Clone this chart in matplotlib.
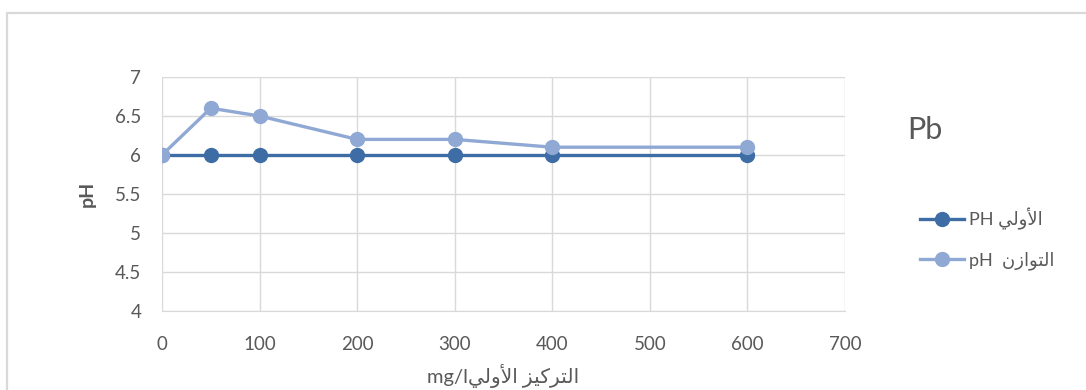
import matplotlib
matplotlib.use("Agg")
import matplotlib.pyplot as plt
from matplotlib.patches import Rectangle

# données
concentrations = [0, 50, 100, 200, 300, 400, 600]
ph_initial = [6, 6, 6, 6, 6, 6, 6]
ph_equilibre = [6, 6.6, 6.5, 6.2, 6.2, 6.1, 6.1]

# texte arabe en formes de présentation, ordre visuel (pas de mise en forme dans matplotlib)
ar_awwali = "\uFEF2\uFEDF\uFEED\uFEF7\uFE8D"          # الأولي
ar_tarkiz = "\uFEB0\uFEF4\uFEDB\uFEAE\uFE98\uFEDF\uFE8D"  # التركيز
ar_tawazun = "\uFEE5\uFEAF\uFE8D\uFEEE\uFE98\uFEDF\uFE8D"  # التوازن

label_initial = "PH " + ar_awwali
label_equilibre = "pH  " + ar_tawazun
xlabel = "mg/l" + ar_awwali + " " + ar_tarkiz

fam = ["Lato", "DejaVu Sans"]
plt.rcParams["font.family"] = fam

dark = "#3E6DA6"
light = "#8FA8D4"
grey_txt = "#595959"
grid_c = "#D9D9D9"

fig = plt.figure(figsize=(10.86, 3.90), dpi=100)

# cadre du graphique
fig.patches.append(Rectangle((7 / 1086, -0.05), 1.2, 1 - 13 / 390 + 0.05,
                             transform=fig.transFigure, fill=False,
                             edgecolor=grid_c, linewidth=1.6))

ax = fig.add_axes([162 / 1086, 1 - 311 / 390, (845 - 162) / 1086, (311 - 77) / 390])

ax.plot(concentrations, ph_initial, color=dark, linewidth=2.4, marker="o",
        markersize=10, label=label_initial, zorder=3)
ax.plot(concentrations, ph_equilibre, color=light, linewidth=2.4, marker="o",
        markersize=10, label=label_equilibre, zorder=4)

ax.set_xlim(0, 700)
ax.set_ylim(4, 7)
ax.set_xticks(range(0, 701, 100))
ax.set_yticks([4, 4.5, 5, 5.5, 6, 6.5, 7])
ax.set_yticklabels(["4", "4.5", "5", "5.5", "6", "6.5", "7"])

ax.grid(True, color=grid_c, linewidth=1)
ax.set_axisbelow(True)
for s in ["top", "right", "left"]:
    ax.spines[s].set_visible(False)
ax.spines["bottom"].set_color(grid_c)
ax.tick_params(length=0, labelsize=13.5, colors=grey_txt)
ax.tick_params(axis="x", pad=18)
ax.tick_params(axis="y", pad=15)

ax.set_ylabel("pH", fontsize=14, color=grey_txt, fontweight="bold", labelpad=14)
ax.set_xlabel(xlabel, fontsize=14.5, color=grey_txt, labelpad=8)

fig.text(907 / 1086, 1 - 130 / 390, "Pb", fontsize=22, color=grey_txt,
         ha="left", va="center")

fig.legend(loc="center left", bbox_to_anchor=(904 / 1086, 1 - 239 / 390),
           frameon=False, fontsize=13, labelcolor=grey_txt,
           handlelength=2.4, labelspacing=1.2, handletextpad=0.3)

fig.savefig("out.png", dpi=100)
